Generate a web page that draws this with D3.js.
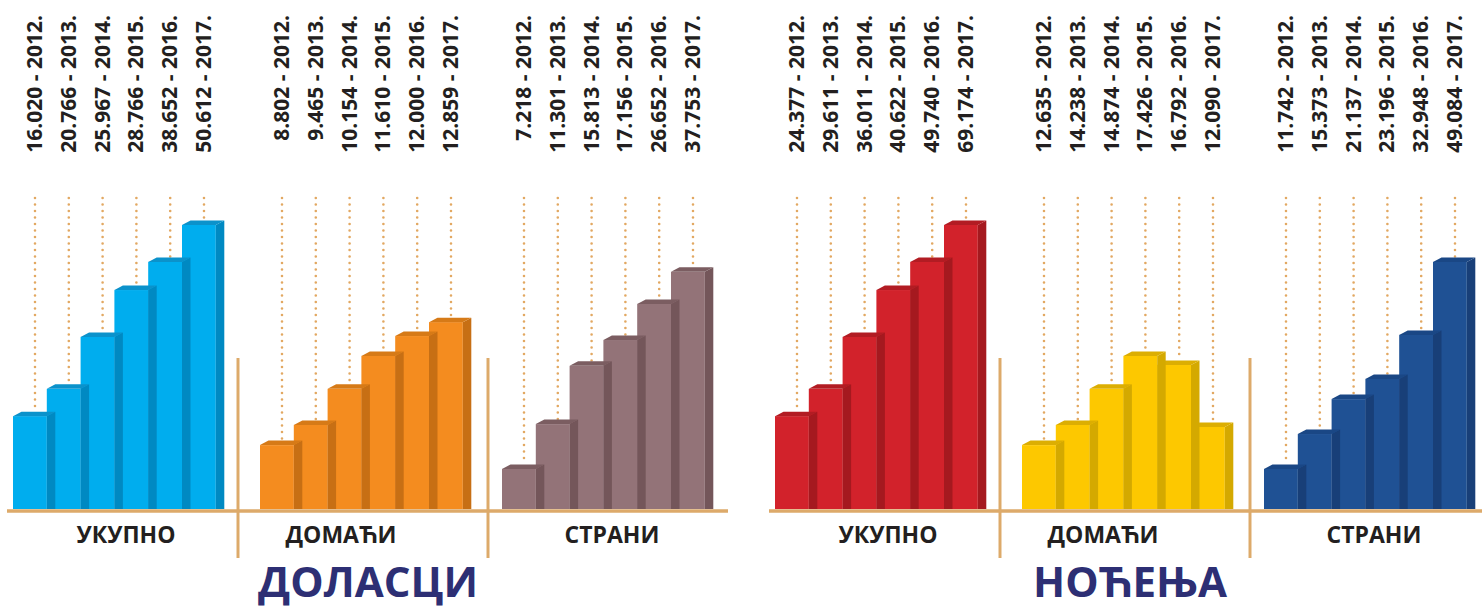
<!DOCTYPE html>
<html>
<head>
<meta charset="utf-8">
<script src="https://cdn.jsdelivr.net/npm/d3@7"></script>
<style>
  body { margin: 0; background: #fff; }
  svg { display: block; font-family: "Open Sans", sans-serif; }
</style>
</head>
<body>
<div id="chart"></div>
<script>
// years shown next to each value
var years = ['2012.', '2013.', '2014.', '2015.', '2016.', '2017.'];

// values written in the labels
var dolasciUkupno = [16020, 20766, 25967, 28766, 38652, 50612];
var dolasciDomaci = [8802, 9465, 10154, 11610, 12000, 12859];
var dolasciStrani = [7218, 11301, 15813, 17156, 26652, 37753];
var nocenjaUkupno = [24377, 29611, 36011, 40622, 49740, 69174];
var nocenjaDomaci = [12635, 14238, 14874, 17426, 16792, 12090];
var nocenjaStrani = [11742, 15373, 21137, 23196, 32948, 49084];

// bar heights as drawn in the picture (% of the tallest bar)
var dolasciUkupnoLevel = [32.7, 42.3, 60.6, 77.1, 87.0, 100];
var dolasciDomaciLevel = [22.5, 29.6, 42.3, 53.9, 60.9, 65.8];
var dolasciStraniLevel = [14.1, 29.9, 50.4, 59.5, 72.2, 83.5];
var nocenjaUkupnoLevel = [32.7, 42.3, 60.6, 77.1, 87.0, 100];
var nocenjaDomaciLevel = [22.5, 29.6, 42.3, 53.9, 50.7, 28.9];
var nocenjaStraniLevel = [14.1, 26.4, 38.7, 45.8, 61.3, 87.0];

var categories = ['УКУПНО', 'ДОМАЋИ', 'СТРАНИ'];
var groupTitles = ['ДОЛАСЦИ', 'НОЋЕЊА'];

var width = 1482, height = 608;
var baseY = 509, tallest = 284;
var step = 33.8, depthX = 8.5, depthY = 4.5;
var tan = '#ddaa6a', dotColor = '#e2a862', ink = '#231f20', navy = '#2d2f74';

var sr = d3.formatLocale({decimal: ',', thousands: '.', grouping: [3], currency: ['', '']});
var fmt = sr.format(',d');

var groups = [
  {title: groupTitles[0], x0: 13, lineEnd: 715, panels: [
    {name: categories[0], values: dolasciUkupno, levels: dolasciUkupnoLevel,
      colors: {front: '#00adee', side: '#0089c2', top: '#0b92cb'}},
    {name: categories[1], values: dolasciDomaci, levels: dolasciDomaciLevel,
      colors: {front: '#f48c1f', side: '#c76f14', top: '#d67a17'}},
    {name: categories[2], values: dolasciStrani, levels: dolasciStraniLevel,
      colors: {front: '#937378', side: '#74565a', top: '#7b5d61'}}
  ]},
  {title: groupTitles[1], x0: 775, lineEnd: 720, panels: [
    {name: categories[0], values: nocenjaUkupno, levels: nocenjaUkupnoLevel,
      colors: {front: '#d2222b', side: '#a5191f', top: '#b21c23'}},
    {name: categories[1], values: nocenjaDomaci, levels: nocenjaDomaciLevel,
      colors: {front: '#fdc800', side: '#d4a900', top: '#dcae02'}},
    {name: categories[2], values: nocenjaStrani, levels: nocenjaStraniLevel,
      colors: {front: '#1f5194', side: '#183f78', top: '#1a4785'}}
  ]}
];
var panelOffsets = [0, 247, 489];
var labelOffsets = [113, 328, 599];
var separatorOffsets = [225, 475];
var titleOffset = 355;

var y = d3.scaleLinear().domain([0, 100]).range([baseY, baseY - tallest]);

var svg = d3.select('#chart').append('svg')
    .attr('width', width)
    .attr('height', height);

groups.forEach(function(g) {
  var gg = svg.append('g');

  g.panels.forEach(function(p, pi) {
    var left = g.x0 + panelOffsets[pi];
    var x = d3.scaleBand().domain(years).range([left, left + step * years.length]).padding(0);
    var w = x.bandwidth();
    var rows = years.map(function(yr, i) {
      return {year: yr, value: p.values[i], level: p.levels[i]};
    });

    // dotted guide lines
    gg.selectAll(null).data(rows).enter().append('line')
        .attr('x1', function(d) { return x(d.year) + 22; })
        .attr('x2', function(d) { return x(d.year) + 22; })
        .attr('y1', 198)
        .attr('y2', function(d) { return y(d.level) - 5; })
        .attr('stroke', dotColor)
        .attr('stroke-width', 2.6)
        .attr('stroke-linecap', 'round')
        .attr('stroke-dasharray', '0 6.5');

    // value labels
    gg.selectAll(null).data(rows).enter().append('text')
        .attr('transform', function(d) { return 'translate(' + (x(d.year) + 29) + ',15)rotate(-90)'; })
        .attr('text-anchor', 'end')
        .style('font-size', '21px')
        .style('font-weight', 700)
        .style('fill', ink)
        .text(function(d) { return fmt(d.value) + ' - ' + d.year; });

    // 3d bars, right to left so each side overlaps the next front
    var bars = gg.selectAll(null).data(rows.slice().reverse()).enter().append('g');
    bars.append('rect')
        .attr('x', function(d) { return x(d.year); })
        .attr('y', function(d) { return y(d.level); })
        .attr('width', w)
        .attr('height', function(d) { return baseY - y(d.level); })
        .attr('fill', p.colors.front);
    bars.append('path')
        .attr('d', function(d) {
          var x1 = x(d.year) + w, t = y(d.level);
          return 'M' + x1 + ',' + t + 'L' + (x1 + depthX) + ',' + (t - depthY) +
            'L' + (x1 + depthX) + ',' + baseY + 'L' + x1 + ',' + baseY + 'Z';
        })
        .attr('fill', p.colors.side);
    bars.append('path')
        .attr('d', function(d) {
          var x0 = x(d.year), t = y(d.level);
          return 'M' + x0 + ',' + t + 'L' + (x0 + depthX) + ',' + (t - depthY) +
            'L' + (x0 + w + depthX) + ',' + (t - depthY) + 'L' + (x0 + w) + ',' + t + 'Z';
        })
        .attr('fill', p.colors.top);

    // category name
    gg.append('text')
        .attr('x', g.x0 + labelOffsets[pi])
        .attr('y', 543)
        .attr('text-anchor', 'middle')
        .style('font-size', '23px')
        .style('font-weight', 700)
        .style('fill', ink)
        .text(p.name);
  });

  // separators and base line
  separatorOffsets.forEach(function(o) {
    gg.append('line')
        .attr('x1', g.x0 + o).attr('x2', g.x0 + o)
        .attr('y1', 358).attr('y2', 558)
        .attr('stroke', tan).attr('stroke-width', 3);
  });
  gg.append('line')
      .attr('x1', g.x0 - 6).attr('x2', g.x0 + g.lineEnd)
      .attr('y1', 511).attr('y2', 511)
      .attr('stroke', tan).attr('stroke-width', 3.5);

  // group title
  gg.append('text')
      .attr('x', g.x0 + titleOffset)
      .attr('y', 597)
      .attr('text-anchor', 'middle')
      .style('font-size', '42px')
      .style('font-weight', 700)
      .style('fill', navy)
      .text(g.title);
});
</script>
</body>
</html>
